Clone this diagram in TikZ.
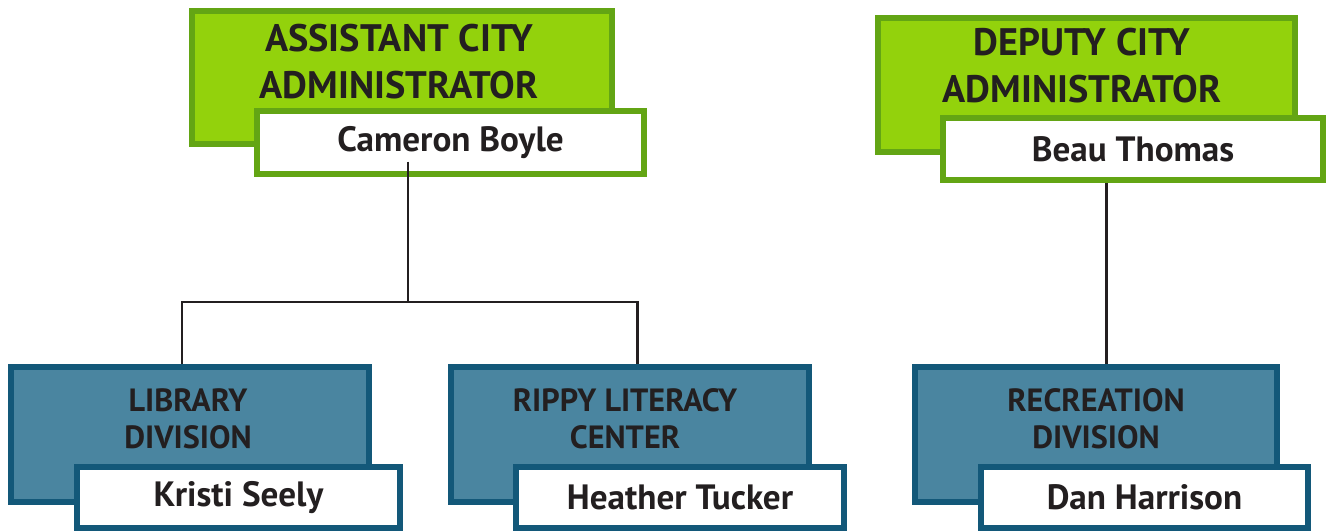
\documentclass[tikz,border=0pt]{standalone}
\usepackage{fontspec}
\setmainfont{PT Sans}
\usepackage{xcolor}
\usepackage{tikz}
\usetikzlibrary{calc}
\definecolor{limeFill}{HTML}{93D20C}
\definecolor{limeLine}{HTML}{63A514}
\definecolor{tealFill}{HTML}{4A85A0}
\definecolor{tealLine}{HTML}{135879}
\definecolor{inkDark}{HTML}{231F20}

\begin{document}
\begin{tikzpicture}[text=inkDark,
  headbox/.style={draw=limeLine,fill=limeFill,line width=3.4pt,inner sep=0pt,
    minimum height=2.67cm},
  unitbox/.style={draw=tealLine,fill=tealFill,line width=3.4pt,inner sep=0pt,
    minimum height=2.70cm},
  headname/.style={draw=limeLine,fill=white,line width=3.4pt,inner sep=0pt,
    minimum height=1.25cm,font=\fontsize{20}{24}\selectfont\bfseries},
  unitname/.style={draw=tealLine,fill=white,line width=3.4pt,inner sep=0pt,
    minimum height=1.22cm,font=\fontsize{20}{24}\selectfont\bfseries},
  headtitle/.style={align=center,inner sep=0pt,font=\fontsize{21.8}{26.7}\selectfont\bfseries},
  unittitle/.style={align=center,inner sep=0pt,font=\fontsize{18.3}{21}\selectfont\bfseries},
  link/.style={draw=inkDark,line width=1.7pt}]
\useasboundingbox (0,0) rectangle (26.56,-10.62);
% bus points of the connectors
\coordinate (acabus) at (8.16,-6.04);
\coordinate (libdrop) at (3.64,-6.04);
\coordinate (rippydrop) at (12.74,-6.04);
\coordinate (recdrop) at (22.12,-6.04);
% assistant city administrator
\node[headbox,minimum width=8.40cm] (aca) at (8.04,-1.55) {};
\node[headtitle] (acatitle) at (7.98,-1.23) {ASSISTANT CITY\\ADMINISTRATOR};
\node[headname,minimum width=7.74cm] (acaname) at (9.01,-2.85) {Cameron Boyle};
% deputy city administrator
\node[headbox,minimum width=8.34cm] (dca) at (21.73,-1.70) {};
\node[headtitle] (dcatitle) at (21.64,-1.31) {DEPUTY CITY\\ADMINISTRATOR};
\node[headname,minimum width=7.60cm] (dcaname) at (22.66,-2.98) {Beau Thomas};
% divisions
\node[unitbox,minimum width=7.16cm] (lib) at (3.80,-8.69) {};
\node[unittitle] (libtitle) at (3.76,-8.37) {LIBRARY\\DIVISION};
\node[unitname,minimum width=6.46cm] (libname) at (4.77,-9.95) {Kristi Seely};
\node[unitbox,minimum width=7.16cm] (rippy) at (12.60,-8.69) {};
\node[unittitle] (rippytitle) at (12.50,-8.37) {RIPPY LITERACY\\CENTER};
\node[unitname,minimum width=6.56cm] (rippyname) at (13.60,-9.95) {Heather Tucker};
\node[unitbox,minimum width=7.24cm] (rec) at (21.92,-8.69) {};
\node[unittitle] (rectitle) at (21.92,-8.37) {RECREATION\\DIVISION};
\node[unitname,minimum width=6.54cm] (recname) at (22.89,-9.95) {Dan Harrison};
% connectors
\draw[link] ([yshift=0.3cm]acaname.south -| acabus) -- (acabus);
\draw[link] (lib.north -| libdrop) -- (libdrop) -- (rippydrop) -- (rippy.north -| rippydrop);
\draw[link] (dcaname.south -| recdrop) -- (rec.north -| recdrop);
\end{tikzpicture}
\end{document}
